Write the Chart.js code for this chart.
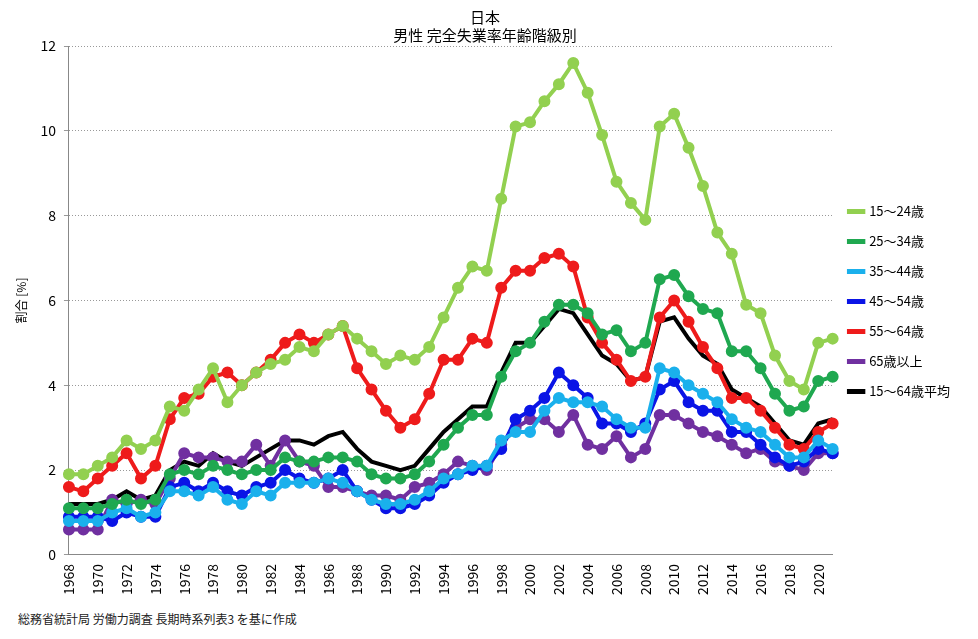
<!DOCTYPE html>
<html>
<head>
<meta charset="utf-8">
<script src="https://cdn.jsdelivr.net/npm/chart.js@4"></script>
<style>
  body { margin: 0; background: #fff; font-family: "Noto Sans CJK JP", sans-serif; }
  #wrap { position: relative; width: 978px; height: 639px; }
  #source { position: absolute; left: 18px; top: 610px; font-size: 12px; color: #222; }
</style>
</head>
<body>
<div id="wrap">
  <canvas id="chart" width="978" height="605"></canvas>
  <div id="source">総務省統計局 労働力調査 長期時系列表3 を基に作成</div>
</div>
<script>
// 年 (1968〜2021)
const years = [];
for (let y = 1968; y <= 2021; y++) years.push(String(y));

const age15_24 = [1.9,1.9,2.1,2.3,2.7,2.5,2.7,3.5,3.4,3.9,4.4,3.6,4.0,4.3,4.5,4.6,4.9,4.8,5.2,5.4,5.1,4.8,4.5,4.7,4.6,4.9,5.6,6.3,6.8,6.7,8.4,10.1,10.2,10.7,11.1,11.6,10.9,9.9,8.8,8.3,7.9,10.1,10.4,9.6,8.7,7.6,7.1,5.9,5.7,4.7,4.1,3.9,5.0,5.1];
const age25_34 = [1.1,1.1,1.1,1.2,1.3,1.2,1.3,1.9,2.0,1.9,2.1,2.0,1.9,2.0,2.0,2.3,2.2,2.2,2.3,2.3,2.2,1.9,1.8,1.8,1.9,2.2,2.6,3.0,3.3,3.3,4.2,4.8,5.0,5.5,5.9,5.9,5.7,5.2,5.3,4.8,5.0,6.5,6.6,6.1,5.8,5.7,4.8,4.8,4.4,3.8,3.4,3.5,4.1,4.2];
const age35_44 = [0.8,0.8,0.8,1.0,1.1,0.9,1.0,1.5,1.5,1.4,1.6,1.3,1.2,1.5,1.4,1.7,1.7,1.7,1.8,1.7,1.5,1.3,1.2,1.2,1.3,1.5,1.8,1.9,2.1,2.1,2.7,2.9,2.9,3.4,3.7,3.6,3.6,3.5,3.2,3.0,3.0,4.4,4.3,4.0,3.8,3.6,3.2,3.0,2.9,2.6,2.3,2.3,2.7,2.5];
const age45_54 = [0.9,0.9,0.9,0.8,1.0,0.9,0.9,1.6,1.7,1.5,1.7,1.5,1.4,1.6,1.7,2.0,1.8,1.7,1.8,2.0,1.5,1.3,1.1,1.1,1.2,1.4,1.7,1.9,2.0,2.1,2.5,3.2,3.4,3.7,4.3,4.0,3.7,3.1,3.1,2.9,3.1,3.9,4.1,3.6,3.4,3.4,2.9,2.9,2.6,2.3,2.1,2.2,2.5,2.4];
const age55_64 = [1.6,1.5,1.8,2.1,2.4,1.8,2.1,3.2,3.7,3.8,4.2,4.3,4.0,4.3,4.6,5.0,5.2,5.0,5.2,5.4,4.4,3.9,3.4,3.0,3.2,3.8,4.6,4.6,5.1,5.0,6.3,6.7,6.7,7.0,7.1,6.8,5.6,5.0,4.6,4.1,4.2,5.6,6.0,5.5,4.9,4.4,3.7,3.7,3.4,3.0,2.6,2.5,2.9,3.1];
const age65over = [0.6,0.6,0.6,1.3,1.2,1.3,1.2,1.8,2.4,2.3,2.3,2.2,2.2,2.6,2.1,2.7,2.2,2.1,1.6,1.6,1.5,1.4,1.4,1.3,1.6,1.7,1.9,2.2,2.1,2.0,2.6,3.0,3.2,3.2,2.9,3.3,2.6,2.5,2.8,2.3,2.5,3.3,3.3,3.1,2.9,2.8,2.6,2.4,2.5,2.2,2.1,2.0,2.4,2.4];
const avg15_64 = [1.2,1.2,1.2,1.3,1.5,1.3,1.4,2.0,2.2,2.1,2.4,2.2,2.1,2.3,2.5,2.7,2.7,2.6,2.8,2.9,2.5,2.2,2.1,2.0,2.1,2.5,2.9,3.2,3.5,3.5,4.3,5.0,5.0,5.4,5.8,5.7,5.2,4.7,4.5,4.1,4.2,5.5,5.6,5.1,4.7,4.5,3.9,3.7,3.5,3.1,2.7,2.6,3.1,3.2];

function series(label, data, color, dots) {
    return {
        label: label,
        data: data,
        borderColor: color,
        backgroundColor: color,
        borderWidth: 4,
        pointRadius: dots ? 4 : 0,
        pointHoverRadius: 0,
        tension: 0
    };
}

const ctx = document.getElementById('chart').getContext('2d');
new Chart(ctx, {
    type: 'line',
    data: {
        labels: years,
        datasets: [
            series('15～24歳', age15_24, '#92d050', true),
            series('25～34歳', age25_34, '#1fa850', true),
            series('35～44歳', age35_44, '#1ab0ec', true),
            series('45～54歳', age45_54, '#0a14e6', true),
            series('55～64歳', age55_64, '#ee1b1b', true),
            series('65歳以上', age65over, '#7030a0', true),
            series('15～64歳平均', avg15_64, '#000000', false)
        ]
    },
    options: {
        responsive: false,
        animation: false,
        layout: { padding: { left: 10, right: 18, top: 4, bottom: 6 } },
        plugins: {
            title: {
                display: true,
                text: ['日本', '男性 完全失業率年齢階級別'],
                color: '#000',
                font: { family: '"Noto Sans CJK JP"', size: 15, weight: 'normal' },
                padding: { top: 4, bottom: 2 }
            },
            legend: {
                position: 'right',
                labels: {
                    usePointStyle: true,
                    pointStyle: 'line',
                    boxWidth: 34,
                    padding: 17,
                    color: '#000',
                    font: { family: '"Noto Sans CJK JP"', size: 13 },
                    generateLabels: function (chart) {
                        return chart.data.datasets.map((ds, i) => ({
                            text: ds.label,
                            strokeStyle: ds.borderColor,
                            fillStyle: ds.borderColor,
                            lineWidth: 5,
                            pointStyle: 'line',
                            datasetIndex: i,
                            fontColor: '#000'
                        }));
                    }
                }
            },
            tooltip: { enabled: false }
        },
        scales: {
            x: {
                grid: { display: false, drawTicks: true, tickLength: 5, tickColor: '#888' },
                border: { color: '#888' },
                ticks: {
                    autoSkip: false,
                    maxRotation: 90,
                    minRotation: 90,
                    color: '#000',
                    padding: 4,
                    font: { family: '"Noto Sans CJK JP"', size: 14 },
                    callback: function (value, index) {
                        return index % 2 === 0 ? this.getLabelForValue(value) : '';
                    }
                }
            },
            y: {
                min: 0,
                max: 12,
                ticks: {
                    stepSize: 2,
                    color: '#000',
                    padding: 8,
                    font: { family: '"Noto Sans CJK JP"', size: 14 }
                },
                grid: {
                    color: '#999',
                    lineWidth: 1,
                    drawTicks: true,
                    tickLength: 5
                },
                border: { color: '#888', dash: [1, 2] },
                title: {
                    display: true,
                    text: '割合 [%]',
                    color: '#000',
                    font: { family: '"Noto Sans CJK JP"', size: 12 }
                }
            }
        }
    }
});
</script>
</body>
</html>
